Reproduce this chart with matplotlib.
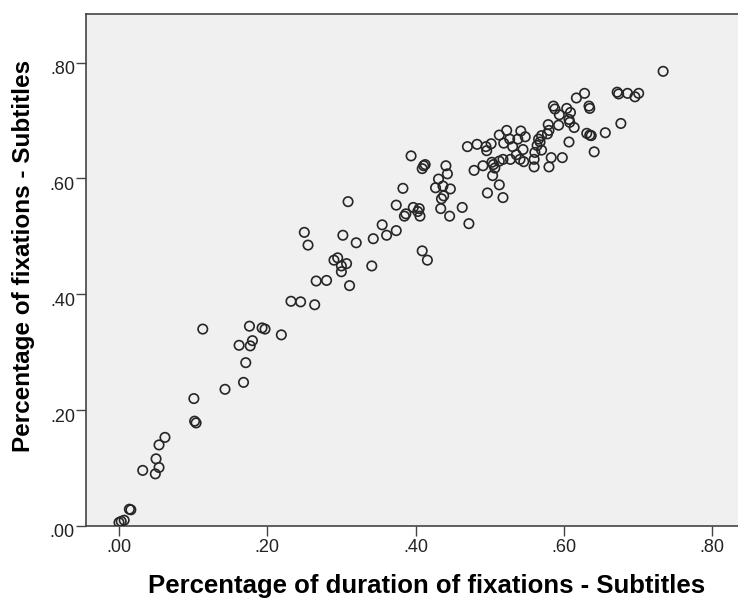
import matplotlib
matplotlib.use("Agg")
import matplotlib.pyplot as plt
from matplotlib.ticker import FuncFormatter
from matplotlib.transforms import ScaledTranslation

# Percentage of duration of fixations - Subtitles (x) vs Percentage of fixations - Subtitles (y)
dur_low = [0.113, 0.176, 0.193, 0.197, 0.219, 0.180, 0.162, 0.177, 0.171, 0.168, 0.143, 0.101, 0.102,
           0.104, 0.062, 0.054, 0.050, 0.054, 0.032, 0.049, 0.014, 0.016, 0.007, 0.003, 0.000]
fix_low = [0.340, 0.345, 0.342, 0.340, 0.330, 0.320, 0.312, 0.311, 0.282, 0.248, 0.236, 0.220, 0.181,
           0.178, 0.153, 0.140, 0.116, 0.101, 0.096, 0.090, 0.029, 0.028, 0.010, 0.008, 0.006]

dur_mid = [0.309, 0.250, 0.255, 0.302, 0.320, 0.343, 0.355, 0.361, 0.374, 0.374, 0.383, 0.290, 0.295,
           0.307, 0.300, 0.300, 0.341, 0.311, 0.266, 0.280, 0.232, 0.245, 0.264]
fix_mid = [0.560, 0.507, 0.485, 0.502, 0.489, 0.496, 0.520, 0.502, 0.510, 0.554, 0.583, 0.459, 0.463,
           0.453, 0.449, 0.439, 0.449, 0.415, 0.423, 0.424, 0.388, 0.387, 0.382]

dur_c40 = [0.394, 0.411, 0.413, 0.409, 0.441, 0.443, 0.431, 0.427, 0.437, 0.447, 0.438, 0.435, 0.434,
           0.446, 0.463, 0.472, 0.385, 0.387, 0.397, 0.405, 0.406, 0.403, 0.409, 0.416]
fix_c40 = [0.639, 0.622, 0.624, 0.617, 0.622, 0.608, 0.599, 0.584, 0.587, 0.582, 0.570, 0.565, 0.548,
           0.535, 0.550, 0.522, 0.535, 0.539, 0.550, 0.548, 0.535, 0.543, 0.475, 0.459]

dur_c50 = [0.470, 0.483, 0.495, 0.502, 0.496, 0.479, 0.491, 0.503, 0.505, 0.507, 0.504, 0.513, 0.497,
           0.518, 0.513, 0.518, 0.528, 0.541, 0.536, 0.545, 0.531, 0.519, 0.527, 0.538, 0.548, 0.542,
           0.523, 0.513, 0.546]
fix_c50 = [0.655, 0.659, 0.655, 0.660, 0.648, 0.614, 0.622, 0.628, 0.624, 0.618, 0.605, 0.589, 0.575,
           0.567, 0.630, 0.633, 0.633, 0.633, 0.641, 0.650, 0.655, 0.661, 0.668, 0.668, 0.672, 0.682,
           0.683, 0.675, 0.629]

dur_c57 = [0.586, 0.588, 0.604, 0.609, 0.594, 0.607, 0.593, 0.614, 0.579, 0.580, 0.578, 0.570, 0.566,
           0.568, 0.564, 0.561, 0.560, 0.560, 0.580, 0.583, 0.598, 0.607, 0.608, 0.570]
fix_c57 = [0.725, 0.720, 0.721, 0.714, 0.710, 0.702, 0.692, 0.688, 0.693, 0.683, 0.677, 0.674, 0.668,
           0.663, 0.657, 0.645, 0.633, 0.620, 0.620, 0.636, 0.636, 0.663, 0.697, 0.649]

dur_high = [0.628, 0.617, 0.634, 0.635, 0.631, 0.635, 0.637, 0.656, 0.641, 0.677, 0.672, 0.674, 0.686,
            0.696, 0.701, 0.734]
fix_high = [0.747, 0.739, 0.725, 0.721, 0.678, 0.675, 0.674, 0.679, 0.646, 0.695, 0.749, 0.746, 0.747,
            0.741, 0.747, 0.785]

x_ticks = [0.0, 0.2, 0.4, 0.6, 0.8]
y_ticks = [0.0, 0.2, 0.4, 0.6, 0.8]
x_label = "Percentage of duration of fixations - Subtitles"
y_label = "Percentage of fixations - Subtitles"

xs = dur_low + dur_mid + dur_c40 + dur_c50 + dur_c57 + dur_high
ys = fix_low + fix_mid + fix_c40 + fix_c50 + fix_c57 + fix_high

plt.rcParams['font.family'] = ['Liberation Sans', 'DejaVu Sans']

W, H = 738, 598
fig = plt.figure(figsize=(W / 100, H / 100), dpi=100)
fig.patch.set_facecolor('white')
ax = fig.add_axes([86 / W, (H - 526) / H, (738 - 86) / W, (526 - 14) / H])
ax.set_facecolor('#F0F0F0')

ax.scatter(xs, ys, s=46, facecolors='none', edgecolors='#262626', linewidths=1.2, zorder=3)

ax.set_xlim(-0.0445, 0.835)
ax.set_ylim(0.0, 0.884)
ax.set_xticks(x_ticks)
ax.set_yticks(y_ticks)
fmt = FuncFormatter(lambda v, p: ("%.2f" % v).lstrip('0'))
ax.xaxis.set_major_formatter(fmt)
ax.yaxis.set_major_formatter(fmt)
ax.tick_params(axis='both', direction='out', length=7, width=1.0, color='#444444',
               labelsize=13, labelcolor='#222222')
ax.tick_params(axis='x', pad=2)
ax.tick_params(axis='y', pad=1)

for lab in ax.get_yticklabels():
    lab.set_transform(lab.get_transform() + ScaledTranslation(0, -3.5 / 72, fig.dpi_scale_trans))

for side in ['left', 'bottom', 'top']:
    ax.spines[side].set_color('#444444')
    ax.spines[side].set_linewidth(1.2)
ax.spines['right'].set_visible(False)

fig.text(427 / W, 1 - 593 / H, x_label, ha='center', va='baseline', fontsize=18.5,
         fontweight='bold', color='black')
fig.text(24 / W, 1 - 256 / H, y_label, ha='center', va='center', fontsize=17.5,
         fontweight='bold', color='black', rotation=90)

fig.savefig('out.png', dpi=100)
